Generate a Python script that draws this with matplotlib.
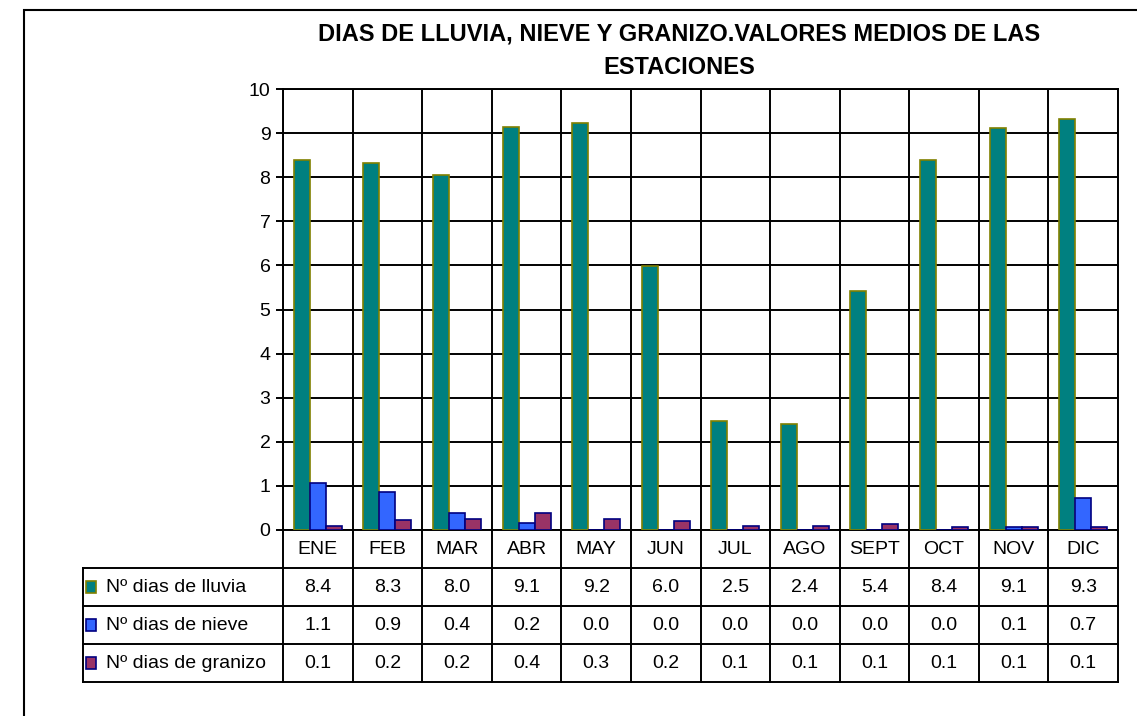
import numpy as np
import matplotlib.pyplot as plt
from matplotlib.patches import Rectangle

plt.rcParams['font.family'] = ['Liberation Sans', 'DejaVu Sans']

meses = ['ENE', 'FEB', 'MAR', 'ABR', 'MAY', 'JUN', 'JUL', 'AGO', 'SEPT', 'OCT', 'NOV', 'DIC']
lluvia = [8.40, 8.33, 8.04, 9.14, 9.23, 5.98, 2.48, 2.40, 5.42, 8.40, 9.12, 9.32]
nieve = [1.07, 0.87, 0.38, 0.17, 0.0, 0.0, 0.0, 0.0, 0.0, 0.0, 0.07, 0.73]
granizo = [0.08, 0.22, 0.24, 0.38, 0.26, 0.20, 0.08, 0.08, 0.14, 0.07, 0.06, 0.06]

series = ['Nº dias de lluvia', 'Nº dias de nieve', 'Nº dias de granizo']
valores = [lluvia, nieve, granizo]
colores = ['#008080', '#3366ff', '#993366']
bordes = ['#808000', '#000080', '#000080']

titulo = 'DIAS DE LLUVIA, NIEVE Y GRANIZO.VALORES MEDIOS DE LAS\nESTACIONES'

W, H = 1137, 716
fx = lambda p: p / W
fy = lambda p: 1 - p / H

fig = plt.figure(figsize=(W / 100, H / 100), dpi=100)

# outer frame (cut by the image on the right and bottom)
fig.add_artist(Rectangle((fx(23.5), -0.1), 2, fy(10) + 0.1, fill=False,
                         lw=1.5, ec='black', transform=fig.transFigure))

left, right, top, base, tbot = 283, 1118, 89, 530, 682
ax = fig.add_axes([fx(left), fy(base), fx(right) - fx(left), fy(top) - fy(base)])

x = np.arange(len(meses))
bw = 0.23
for i, (vals, c, e) in enumerate(zip(valores, colores, bordes)):
    ax.bar(x + (i - 1) * bw, vals, bw, color=c, edgecolor=e, linewidth=1.2, zorder=3)

ax.set_xlim(-0.5, len(meses) - 0.5)
ax.set_ylim(0, 10)
ax.set_yticks(range(11))
ax.set_xticks([])
ax.set_xticks(np.arange(-0.5, len(meses), 1), minor=True)
ax.tick_params(axis='x', which='both', length=0, labelbottom=False)
ax.tick_params(axis='y', length=5, width=1.4, labelsize=14, pad=4)
ax.grid(True, axis='y', color='black', lw=1.4)
ax.grid(True, axis='x', which='minor', color='black', lw=1.4)
ax.set_axisbelow(True)
for s in ax.spines.values():
    s.set_linewidth(1.4)

# data table below the chart
ax_t = fig.add_axes([fx(left), fy(tbot), fx(right) - fx(left), fy(base) - fy(tbot)])
ax_t.set_xlim(-0.5, len(meses) - 0.5)
ax_t.set_ylim(4, 0)
ax_t.axis('off')
cat_px = (right - left) / len(meses)
xleft = -0.5 - (left - 83) / cat_px

for r in range(1, 5):
    ax_t.plot([xleft, len(meses) - 0.5], [r, r], color='black', lw=1.4, clip_on=False)
for v in np.arange(-0.5, len(meses), 1):
    ax_t.plot([v, v], [0, 4], color='black', lw=1.4, clip_on=False)
ax_t.plot([xleft, xleft], [1, 4], color='black', lw=1.4, clip_on=False)

for j, m in enumerate(meses):
    ax_t.text(j, 0.5, m, ha='center', va='center', fontsize=14)
for i, (nombre, vals) in enumerate(zip(series, valores)):
    r = i + 1.5
    ax_t.add_patch(Rectangle((xleft + 0.04, r - 0.15), 0.15, 0.30, fc=colores[i], ec=bordes[i],
                             lw=1.2, clip_on=False))
    ax_t.text(xleft + 0.33, r, nombre, ha='left', va='center', fontsize=14)
    for j, v in enumerate(vals):
        ax_t.text(j, r, '%.1f' % v, ha='center', va='center', fontsize=14)

fig.text(fx(679), fy(51), titulo, ha='center', va='center', fontsize=17,
         fontweight='bold', linespacing=1.6)

plt.savefig('out.png', dpi=100)
plt.close()
